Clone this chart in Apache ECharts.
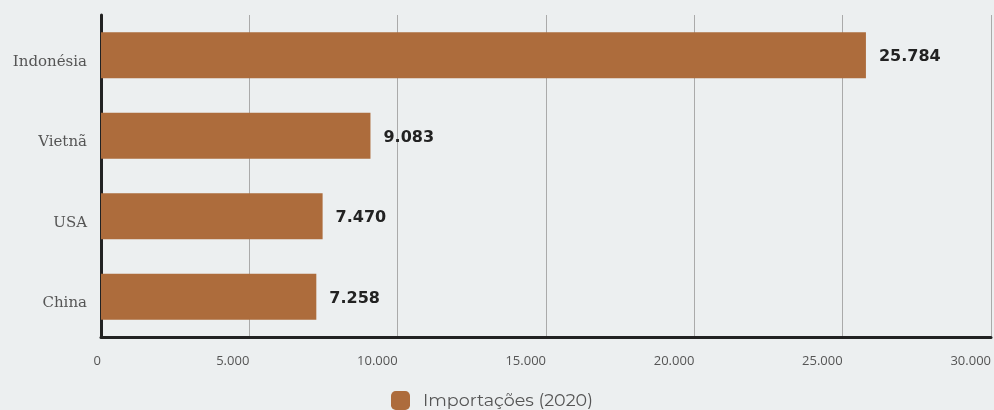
<!DOCTYPE html>
<html>
<head>
<meta charset="utf-8">
<script src="https://cdn.jsdelivr.net/npm/echarts@6/dist/echarts.min.js"></script>
<style>
  html, body { margin: 0; padding: 0; background: #ECEFF0; }
  #chart { width: 994px; height: 410px; }
</style>
</head>
<body>
<div id="chart"></div>
<script>
// Importações por país (2020)
const countries = ['China', 'USA', 'Vietnã', 'Indonésia'];
const imports2020 = [7258, 7470, 9083, 25784];
const seriesName = 'Importações (2020)';
const xTicks = { min: 0, max: 30000, interval: 5000 };

const fmt = v => String(v).replace(/\B(?=(\d{3})+(?!\d))/g, '.');

const chart = echarts.init(document.getElementById('chart'));
chart.setOption({
  backgroundColor: '#ECEFF0',
  animation: false,
  grid: { left: 101, right: 2, top: 15, bottom: 73, containLabel: false },
  legend: {
    top: 391,
    left: 391,
    padding: 0,
    itemWidth: 19,
    itemHeight: 19,
    itemGap: 10,
    icon: 'roundRect',
    textStyle: { color: '#555', fontSize: 17.5, padding: [2, 0, 0, 8], fontFamily: 'Montserrat, "Open Sans", sans-serif' },
    data: [seriesName]
  },
  xAxis: {
    type: 'value',
    min: xTicks.min,
    max: xTicks.max,
    interval: xTicks.interval,
    axisLine: { show: true, lineStyle: { color: '#222', width: 3 } },
    axisTick: { show: false },
    splitLine: { show: true, lineStyle: { color: '#AAAAAA', width: 1 } },
    axisLabel: {
      color: '#555',
      fontSize: 13,
      fontFamily: '"Open Sans", sans-serif',
      align: 'right',
      margin: 18,
      formatter: v => fmt(v)
    }
  },
  yAxis: {
    type: 'category',
    data: countries,
    axisLine: { show: true, lineStyle: { color: '#222', width: 3 } },
    axisTick: { show: false },
    axisLabel: {
      color: '#555',
      fontSize: 15,
      fontFamily: '"DejaVu Serif", serif',
      margin: 14,
      verticalAlign: 'top',
      padding: [-1, 0, 0, 0]
    }
  },
  series: [{
    name: seriesName,
    type: 'bar',
    data: imports2020,
    barCategoryGap: '43%',
    itemStyle: { color: '#AD6C3C' },
    label: {
      show: true,
      position: 'right',
      distance: 13,
      offset: [0, 2],
      color: '#222',
      fontSize: 16,
      fontWeight: 'bold',
      fontFamily: '"DejaVu Sans", sans-serif',
      formatter: p => fmt(p.value)
    }
  }]
});
</script>
</body>
</html>
